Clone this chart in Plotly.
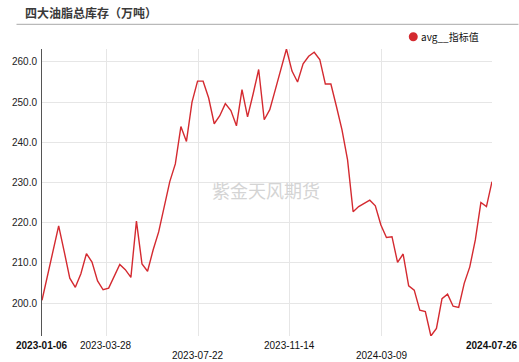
import plotly.graph_objects as go
import pandas as pd

# ---- data ----
start_date = "2023-01-06"
n_weeks = 82
dates = pd.date_range(start_date, periods=n_weeks, freq="7D")
values = [
    200.7, 207.0, 213.2, 219.2, 212.8, 206.2, 203.9, 207.3, 212.3, 210.2,
    205.5, 203.3, 203.7, 206.6, 209.6, 208.3, 206.4, 220.4, 209.7, 207.9,
    213.2, 217.7, 223.6, 230.2, 234.6, 243.9, 240.2, 250.0, 255.2, 255.2,
    251.0, 244.6, 246.6, 249.6, 247.9, 244.1, 253.1, 246.3, 252.0, 258.1,
    245.6, 248.1, 253.1, 258.1, 263.2, 257.7, 255.0, 259.5, 261.4, 262.4,
    260.6, 254.5, 254.5, 248.9, 243.1, 235.6, 222.7, 224.0, 224.8, 225.6,
    224.2, 219.4, 216.3, 216.5, 210.1, 212.2, 204.3, 203.2, 198.2, 197.9,
    191.8, 193.7, 201.1, 202.2, 199.2, 198.9, 204.9, 209.0, 215.7, 225.0,
    224.0, 230.2,
]
series_name = "avg__指标值"
title_text = "四大油脂总库存（万吨）"
watermark = "紫金天风期货"

x_tick_labels = ["2023-01-06", "2023-03-28", "2023-07-22", "2023-11-14", "2024-03-09", "2024-07-26"]
x_tick_row = [0, 0, 1, 0, 1, 0]
x_tick_bold = [True, False, False, False, False, True]
grid_dates = ["2023-03-28", "2023-07-22", "2023-11-14", "2024-03-09"]
y_ticks = [200, 210, 220, 230, 240, 250, 260]

# ---- layout constants ----
W, H = 519, 362
ML, MR, MT, MB = 33, 27, 49, 26
PW = W - ML - MR
PH = H - MT - MB


def px_x(px):
    return (px - ML) / PW


def px_y(py):
    return (H - MB - py) / PH


LINE_COLOR = "#d42a30"
FONT = "Arial, Liberation Sans, sans-serif"
CJK = "Noto Sans CJK SC, sans-serif"

fig = go.Figure()
fig.add_trace(go.Scatter(
    x=dates, y=values, mode="lines", name=series_name,
    line=dict(color=LINE_COLOR, width=1.4), showlegend=False,
))

annotations = []
for lab, row, bold in zip(x_tick_labels, x_tick_row, x_tick_bold):
    annotations.append(dict(
        x=lab, xref="x", y=0, yref="paper", yanchor="middle", xanchor="center",
        yshift=-9.5 - 10 * row, showarrow=False,
        text=f"<b>{lab}</b>" if bold else lab,
        font=dict(family=FONT, size=10, color="#111"),
    ))

annotations += [
    dict(x=px_x(14), y=px_y(12.5), xref="paper", yref="paper", xanchor="left", yanchor="middle",
         showarrow=False, text=f"<b>{title_text}</b>",
         font=dict(family=CJK, size=12, color="#3a3a3a")),
    dict(x=px_x(418), y=px_y(36.7), xref="paper", yref="paper", xanchor="left", yanchor="middle",
         showarrow=False, text=series_name,
         font=dict(family=CJK, size=10, color="#111")),
    dict(x=px_x(261.5), y=px_y(190.5), xref="paper", yref="paper", xanchor="center", yanchor="middle",
         showarrow=False, text=watermark,
         font=dict(family=CJK, size=18, color="#d4d4d4")),
]

shapes = [
    dict(type="line", xref="paper", yref="paper", x0=px_x(7), x1=px_x(519),
         y0=px_y(24.3), y1=px_y(24.3), line=dict(color="#a8a8a8", width=1)),
    dict(type="circle", xref="paper", yref="paper", xsizemode="pixel", ysizemode="pixel",
         xanchor=px_x(411.7), yanchor=px_y(36.7), x0=-4.5, x1=4.5, y0=-4.5, y1=4.5,
         fillcolor=LINE_COLOR, line=dict(width=0)),
]

fig.update_layout(
    width=W, height=H,
    margin=dict(l=ML, r=MR, t=MT, b=MB, pad=0),
    paper_bgcolor="white", plot_bgcolor="white",
    annotations=annotations, shapes=shapes,
    xaxis=dict(
        type="date", range=[dates[0], dates[-1]],
        tickvals=grid_dates, showticklabels=False, ticks="",
        showgrid=True, gridcolor="#e6e6e6", gridwidth=1,
        zeroline=False, showline=False,
    ),
    yaxis=dict(
        range=[min(values), max(values)],
        tickvals=y_ticks, ticktext=[f"{v:.1f}" for v in y_ticks],
        tickfont=dict(family=FONT, size=10, color="#222"),
        ticks="", ticklabelstandoff=2,
        showgrid=True, gridcolor="#e6e6e6", gridwidth=1,
        zeroline=False, showline=True, linecolor="#555", linewidth=1,
    ),
)

fig.write_html(
    "out.html",
    config={"displayModeBar": False},
    post_script="document.body.style.margin='0';document.body.style.overflow='hidden';",
)
